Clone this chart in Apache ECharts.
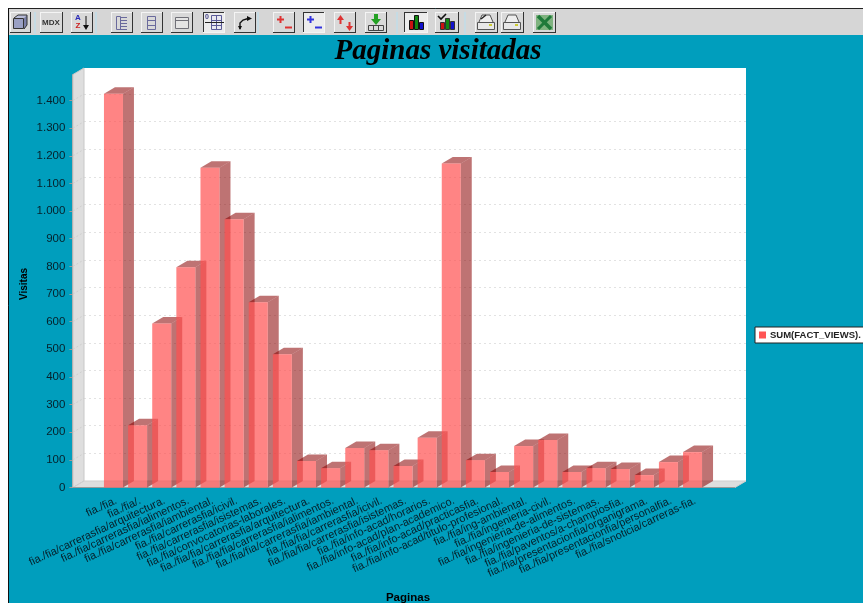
<!DOCTYPE html>
<html>
<head>
<meta charset="utf-8">
<title>Paginas visitadas</title>
<script src="https://cdn.jsdelivr.net/npm/echarts@6/dist/echarts.min.js"></script>
<style>
html,body{margin:0;padding:0;background:#fff;overflow:hidden}
#main{width:863px;height:603px}
</style>
</head>
<body>
<div id="main"></div>
<script>
var paginas = [
	'fia./fia.','fia./fia/.',
	'fia./fia/carrerasfia/arquitectura.','fia./fia/carrerasfia/ialimentos.','fia./fia/carrerasfia/iambiental.',
	'fia./fia/carrerasfia/icivil.','fia./fia/carrerasfia/isistemas.','fia./fia/convocatorias-laborales.',
	'fia./fia/fia/carrerasfia/arquitectura.','fia./fia/fia/carrerasfia/ialimentos.','fia./fia/fia/carrerasfia/iambiental.',
	'fia./fia/fia/carrerasfia/icivil.','fia./fia/fia/carrerasfia/isistemas.',
	'fia./fia/info-acad/horarios.','fia./fia/info-acad/plan-academico.','fia./fia/info-acad/practicasfia.','fia./fia/info-acad/titulo-profesional.',
	'fia./fia/ing-ambiental.','fia./fia/ingenieria-civil.','fia./fia/ingenieria-de-alimentos.','fia./fia/ingenieria-de-sistemas.',
	'fia./fia/paventos/a-champiosfia.','fia./fia/presentacionfia/organigrama.','fia./fia/presentacionfia/personalfia.','fia./fia/snoticia/carreras-fia.'
];
var visitas = [1424,225,593,797,1157,970,670,482,96,70,143,135,78,180,1172,99,56,150,172,56,70,67,45,92,128];
var yTicks = [0,100,200,300,400,500,600,700,800,900,1000,1100,1200,1300,1400];
var serieName = 'SUM(FACT_VIEWS).';

// profundidad del efecto 3d
var dx = 11, dy = 6.5;
var yMax = 1494;
var barW = 19;
var sansFont = '"Liberation Sans", Arial, sans-serif';

function wallItem(params, api){
	var cs = params.coordSys;
	var p = api.coord([0, api.value(0)]);
	var children = [];
	if(params.dataIndex === 0){
		var bottom = cs.y + cs.height, right = cs.x + cs.width;
		children.push({type:'polygon', shape:{points:[[cs.x-dx,cs.y+dy],[cs.x,cs.y],[cs.x,bottom],[cs.x-dx,bottom+dy]]},
			style:{fill:'#dedede', stroke:'#c8c8c8', lineWidth:1}});
		children.push({type:'polygon', shape:{points:[[cs.x-dx,bottom+dy],[cs.x,bottom],[right,bottom],[right-dx,bottom+dy]]},
			style:{fill:'#dedede', stroke:'#cfcfcf', lineWidth:1}});
		children.push({type:'line', shape:{x1:cs.x-dx,y1:bottom+dy,x2:right-dx,y2:bottom+dy}, style:{stroke:'#9a9a9a', lineWidth:1}});
	}
	if(api.value(0) > 0){
		children.push({type:'line', shape:{x1:p[0]-dx,y1:p[1]+dy,x2:p[0],y2:p[1]}, style:{stroke:'#cfcfcf', lineWidth:1, lineDash:[2,2]}});
	}
	return {type:'group', children:children};
}

function barItem(params, api){
	var top = api.coord([api.value(0), api.value(1)]);
	var base = api.coord([api.value(0), 0]);
	var l = top[0] - barW/2, r = top[0] + barW/2;
	var front = 'rgba(255,80,80,0.7)', dark = 'rgba(137,0,0,0.55)';
	return {type:'group', children:[
		{type:'polygon', shape:{points:[[r,top[1]],[r+dx,top[1]-dy],[r+dx,base[1]-dy],[r,base[1]]]}, style:{fill:dark}},
		{type:'polygon', shape:{points:[[l,top[1]],[l+dx,top[1]-dy],[r+dx,top[1]-dy],[r,top[1]]]}, style:{fill:dark}},
		{type:'polygon', shape:{points:[[l,top[1]],[r,top[1]],[r,base[1]],[l,base[1]]]}, style:{fill:front}}
	]};
}

// barra de herramientas
var toolbar = [];
function rc(x,y,w,h,fill,stroke){
	toolbar.push({type:'rect', shape:{x:x,y:y,width:w,height:h}, style:{fill:fill||'none', stroke:stroke||'none', lineWidth:1}, silent:true});
}
function ln(x1,y1,x2,y2,color,w){
	toolbar.push({type:'line', shape:{x1:x1,y1:y1,x2:x2,y2:y2}, style:{stroke:color, lineWidth:w||1}, silent:true});
}
function pg(points,fill){
	toolbar.push({type:'polygon', shape:{points:points}, style:{fill:fill}, silent:true});
}
function tx(x,y,str,font,color){
	toolbar.push({type:'text', x:x, y:y, style:{text:str, font:font, fill:color, textAlign:'center', textVerticalAlign:'middle'}, silent:true});
}
function button(x,w,pressed){
	rc(x+.5,12.5,w,20,pressed?'#ececec':'#d9d9d9','#c4c4c4');
	ln(x,12.5,x+w+1,12.5,pressed?'#333':'#f4f4f4');
	ln(x+.5,12,x+.5,33,pressed?'#333':'#f4f4f4');
	ln(x,32.5,x+w+1,32.5,pressed?'#f4f4f4':'#333');
	ln(x+w+.5,12,x+w+.5,33,pressed?'#f4f4f4':'#333');
}
function drawToolbar(){
	rc(0,0,863,8,'#ffffff');
	rc(0,0,8,603,'#ffffff');
	rc(8,9,855,26,'#d6d6d6');
	ln(8,8.5,863,8.5,'#222');
	ln(8.5,8,8.5,603,'#111');
	[[35],[96],[258],[397],[465]].forEach(function(s){ ln(s[0],12,s[0],34,'#c6dbe4',2); });

	var x;
	x=10; button(x,20);
	rc(x+3.5,18.5,10,10,'#9aa0c4','#333'); pg([[x+4,18],[x+8,15],[x+17,15],[x+14,18]],'#b8bcd8'); pg([[x+14,18],[x+17,15],[x+17,25],[x+14,29]],'#7b80a8');
	ln(x+4,18,x+8,15,'#333'); ln(x+8,15,x+17,15,'#333'); ln(x+17,15,x+17,25,'#333'); ln(x+17,25,x+14,29,'#333');
	x=40; button(x,22);
	tx(x+11,22.5,'MDX','bold 8px '+sansFont,'#333');
	x=71; button(x,21);
	tx(x+7,18,'A','bold 8px '+sansFont,'#2b2bb8'); tx(x+7,26,'Z','bold 8px '+sansFont,'#cc2020');
	ln(x+15,16,x+15,27,'#111'); pg([[x+12,25],[x+18,25],[x+15,30]],'#111');
	x=111; button(x,21);
	rc(x+5.5,16.5,4,13,'none','#6a6a9c');
	[17,20,23,26,29].forEach(function(y){ ln(x+9,y+.5,x+16,y+.5,'#6a6a9c'); });
	x=141; button(x,21);
	rc(x+6.5,16.5,8,13,'#d9d9d9','#6a6a9c'); ln(x+6,20.5,x+15,20.5,'#6a6a9c'); ln(x+6,25.5,x+15,25.5,'#6a6a9c');
	x=171; button(x,21);
	rc(x+4.5,17.5,13,11,'#e4e4e4','#707078'); ln(x+4,20.5,x+18,20.5,'#707078');
	x=203; button(x,21,true);
	tx(x+4,17,'0','bold 7px '+sansFont,'#444488'); rc(x+8.5,15.5,10,14,'#e8e8f0','#5a5a98'); ln(x+8,20.5,x+19,20.5,'#5a5a98'); ln(x+8,25.5,x+19,25.5,'#5a5a98'); ln(x+13.5,15,x+13.5,30,'#5a5a98'); ln(x+2,22.5,x+21,22.5,'#222');
	x=234; button(x,21);
	toolbar.push({type:'polyline', shape:{points:[[x+6,29],[x+6,23],[x+9,20],[x+14,18.5]]}, style:{stroke:'#111', lineWidth:1.4, fill:'none'}, silent:true});
	pg([[x+13,16],[x+18,18.5],[x+13,21]],'#111'); pg([[x+4,26],[x+8,26],[x+6,30]],'#111');
	x=273; button(x,21);
	ln(x+4,19.5,x+11,19.5,'#dd3333',2); ln(x+7.5,16,x+7.5,23,'#dd3333',2); ln(x+12,27.5,x+19,27.5,'#dd3333',2);
	x=303; button(x,21,true);
	ln(x+4,19.5,x+11,19.5,'#3333dd',2); ln(x+7.5,16,x+7.5,23,'#3333dd',2); ln(x+12,27.5,x+19,27.5,'#3333dd',2);
	x=334; button(x,21);
	ln(x+6.5,19,x+6.5,24,'#dd3333',2); pg([[x+3,20],[x+10,20],[x+6.5,15]],'#dd3333');
	ln(x+15.5,22,x+15.5,27,'#dd3333',2); pg([[x+12,26],[x+19,26],[x+15.5,31]],'#dd3333');
	x=365; button(x,21);
	ln(x+11,14,x+11,19,'#22a022',4); pg([[x+6,19],[x+16,19],[x+11,25]],'#22a022');
	rc(x+3.5,25.5,15,5,'#d9d9d9','#444'); ln(x+8.5,25,x+8.5,31,'#444'); ln(x+13.5,25,x+13.5,31,'#444');
	x=404; button(x,23,true);
	rc(x+5.5,20.5,4,9,'#cc1111','#111'); rc(x+10.5,15.5,4,14,'#118811','#111'); rc(x+15.5,22.5,4,7,'#1111cc','#111');
	x=435; button(x,23);
	rc(x+5.5,22.5,4,7,'#cc1111','#333'); rc(x+10.5,18.5,4,11,'#118811','#333'); rc(x+15.5,21.5,4,8,'#1111cc','#333');
	toolbar.push({type:'polyline', shape:{points:[[x+3,16],[x+6,19],[x+11,14]]}, style:{stroke:'#111', lineWidth:1.6, fill:'none'}, silent:true});
	[475,501].forEach(function(bx,i){
		button(bx,22);
		pg([[bx+7,15],[bx+15,15],[bx+18,22],[bx+4,22]],'#eeeeee');
		ln(bx+7,15,bx+15,15,'#555'); ln(bx+15,15,bx+18,22,'#555'); ln(bx+7,15,bx+4,22,'#555');
		if(i===0){ ln(bx+6,19,bx+11,15,'#222',1.4); }
		rc(bx+2.5,22.5,17,7,'#e8e8e8','#555');
		rc(bx+14,24,3,2,'#cccc33');
	});
	x=533; button(x,22);
	rc(x+3,15,17,15,'#7fb37f');
	ln(x+5,16,x+18,29,'#1f7a3a',3.5); ln(x+18,16,x+5,29,'#1f7a3a',3);
}
drawToolbar();

var option = {
	backgroundColor:'#009ebd',
	animation:false,
	textStyle:{fontFamily:sansFont},
	title:{
		text:'Paginas visitadas',
		left:433,
		top:32,
		textAlign:'center',
		textStyle:{fontFamily:'"Liberation Serif", serif', fontStyle:'italic', fontWeight:'bold', fontSize:29, color:'#000'}
	},
	legend:{
		data:[{name:serieName, icon:'rect'}],
		left:755,
		top:327,
		padding:[3,4,3,4],
		itemWidth:7,
		itemHeight:7,
		itemGap:4,
		backgroundColor:'#fff',
		borderColor:'#222',
		borderWidth:1,
		selectedMode:false,
		textStyle:{fontSize:9.5, fontWeight:'bold', color:'#222', padding:[0,0,0,-1]}
	},
	grid:[
		{left:84, top:68, width:662, height:413, show:true, backgroundColor:'#fff', borderWidth:0, outerBoundsMode:'none'},
		{left:101.4, top:74.5, width:603.2, height:413, show:false, outerBoundsMode:'none'}
	],
	xAxis:[
		{gridIndex:0, type:'value', min:0, max:1, show:false},
		{
			gridIndex:1, type:'category', data:paginas,
			axisLine:{show:false}, axisTick:{show:false},
			name:'Paginas', nameLocation:'middle', nameGap:104,
			nameTextStyle:{fontWeight:'bold', fontSize:11.5, color:'#000', padding:[0,0,0,10]},
			axisLabel:{interval:0, rotate:25, fontSize:11, color:'#06202a', margin:14, padding:[0,-3,0,0]}
		}
	],
	yAxis:[
		{
			gridIndex:0, type:'value', min:0, max:yMax, interval:100,
			axisLine:{show:false}, axisTick:{show:false}, axisLabel:{show:false},
			splitLine:{show:true, showMinLine:false, showMaxLine:false, lineStyle:{color:'#e2e2e2', type:[2,3], width:1}}
		},
		{
			gridIndex:1, type:'value', min:0, max:yMax, interval:100, offset:29,
			splitLine:{show:false},
			axisLine:{show:true, lineStyle:{color:'#9a9a9a'}},
			axisTick:{show:true, length:3, lineStyle:{color:'#9a9a9a'}},
			axisLabel:{
				fontSize:11.5, color:'#06202a', margin:7, showMaxLabel:false, padding:[2,0,0,0],
				formatter:function(v){ return String(v).replace(/\B(?=(\d{3})+$)/g,'.'); }
			},
			name:'Visitas', nameLocation:'middle', nameGap:43, nameMoveOverlap:false,
			nameTextStyle:{fontWeight:'bold', fontSize:10, color:'#000', padding:[0,6,0,0]}
		}
	],
	series:[
		{
			type:'custom', name:'paredes', xAxisIndex:0, yAxisIndex:0, silent:true, z:1,
			data:yTicks.map(function(v){ return [v]; }),
			encode:{y:0},
			renderItem:wallItem
		},
		{
			type:'custom', name:serieName, xAxisIndex:1, yAxisIndex:1, silent:true, z:2,
			itemStyle:{color:'#ff5555'},
			data:visitas.map(function(v,i){ return [i,v]; }),
			encode:{x:0,y:1},
			renderItem:barItem
		}
	],
	graphic:toolbar
};

var ele = echarts.init(document.getElementById('main'), null, {renderer:'canvas'});
ele.setOption(option);
</script>
</body>
</html>
